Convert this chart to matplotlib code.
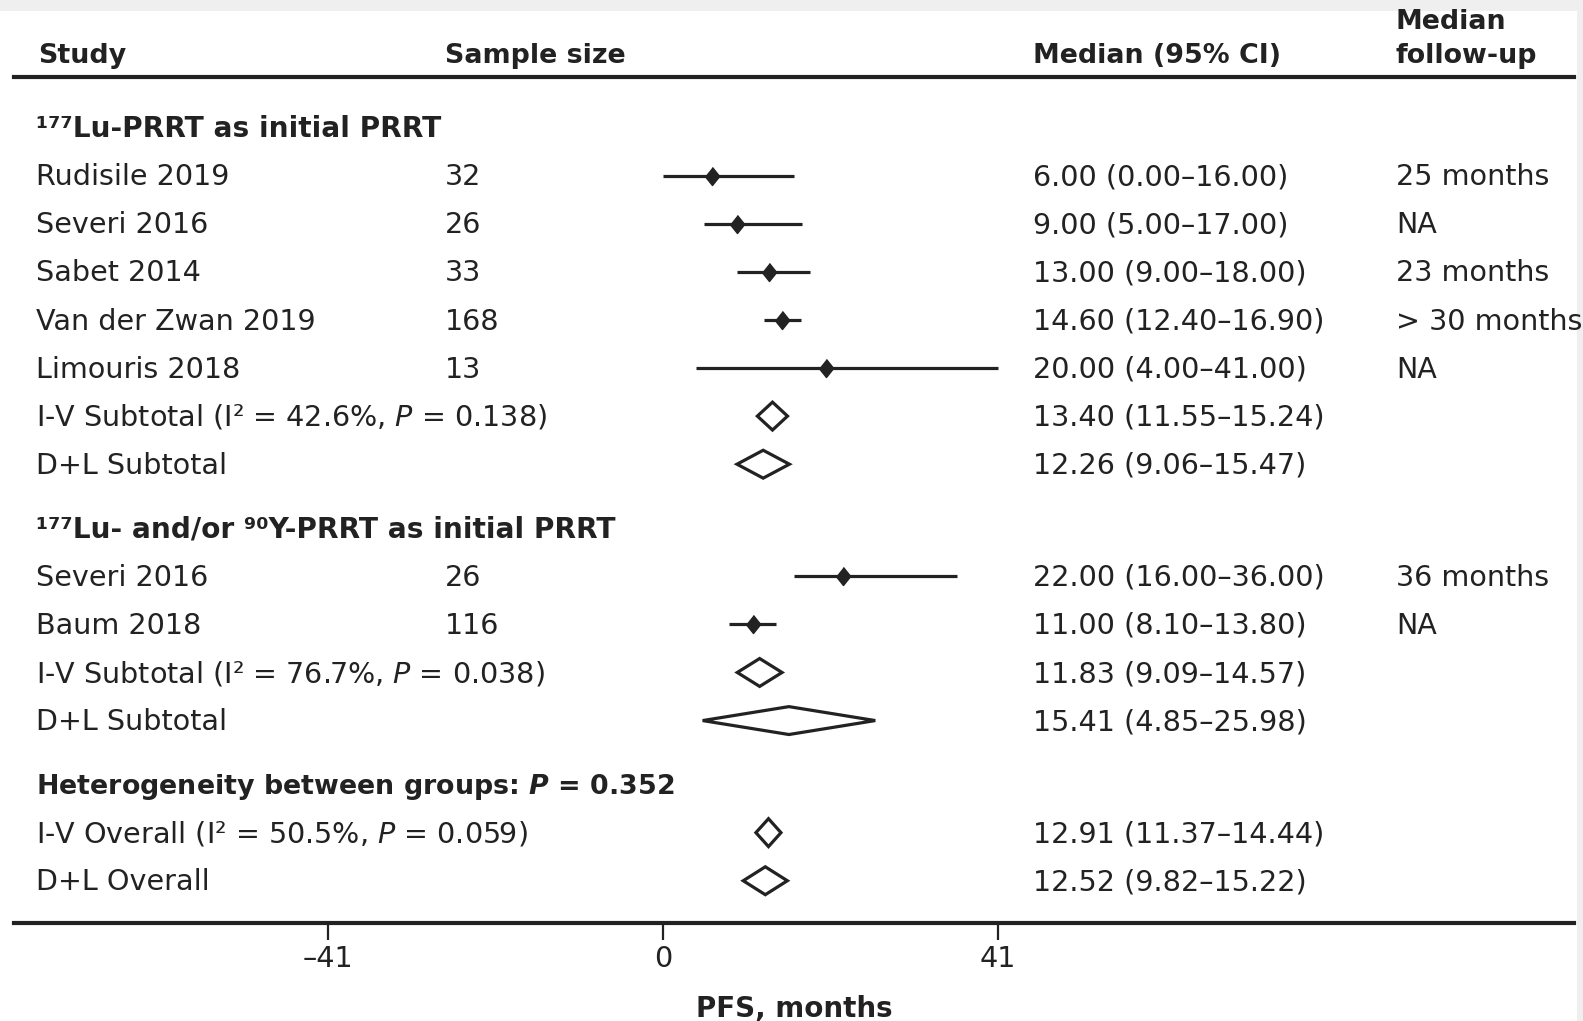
import matplotlib
matplotlib.use('Agg')
import matplotlib.pyplot as plt
from matplotlib import transforms
from matplotlib.patches import Polygon, Rectangle

plt.rcParams['font.family'] = ['DejaVu Sans']
plt.rcParams['mathtext.fontset'] = 'dejavusans'

# ---- data ----
# group 1 : 177Lu-PRRT as initial PRRT
g1_title = '¹⁷⁷Lu-PRRT as initial PRRT'
g1_study = ['Rudisile 2019', 'Severi 2016', 'Sabet 2014', 'Van der Zwan 2019', 'Limouris 2018']
g1_n = [32, 26, 33, 168, 13]
g1_med = [6.00, 9.00, 13.00, 14.60, 20.00]
g1_lo = [0.00, 5.00, 9.00, 12.40, 4.00]
g1_hi = [16.00, 17.00, 18.00, 16.90, 41.00]
g1_fu = ['25 months', 'NA', '23 months', '> 30 months', 'NA']
g1_pool_lab = ['I-V Subtotal (I² = 42.6%, $P$ = 0.138)', 'D+L Subtotal']
g1_pool_med = [13.40, 12.26]
g1_pool_lo = [11.55, 9.06]
g1_pool_hi = [15.24, 15.47]

# group 2 : 177Lu- and/or 90Y-PRRT as initial PRRT
g2_title = '¹⁷⁷Lu- and/or ⁹⁰Y-PRRT as initial PRRT'
g2_study = ['Severi 2016', 'Baum 2018']
g2_n = [26, 116]
g2_med = [22.00, 11.00]
g2_lo = [16.00, 8.10]
g2_hi = [36.00, 13.80]
g2_fu = ['36 months', 'NA']
g2_pool_lab = ['I-V Subtotal (I² = 76.7%, $P$ = 0.038)', 'D+L Subtotal']
g2_pool_med = [11.83, 15.41]
g2_pool_lo = [9.09, 4.85]
g2_pool_hi = [14.57, 25.98]

het_text = r'Heterogeneity between groups: $\mathbfit{P}$ = 0.352'
overall_lab = ['I-V Overall (I² = 50.5%, $P$ = 0.059)', 'D+L Overall']
overall_med = [12.91, 12.52]
overall_lo = [11.37, 9.82]
overall_hi = [14.44, 15.22]

xticks = [-41, 0, 41]
xtick_labels = ['\u201341', '0', '41']

# ---- figure ----
W, H = 1583, 1021
fig = plt.figure(figsize=(W / 100, H / 100), dpi=100)
fig.patch.set_facecolor('white')
# grey frame at top / right of the original scan
fig.add_artist(Rectangle((0, 1 - 11 / H), 1, 11 / H, transform=fig.transFigure,
                         color='#efefef', lw=0, zorder=-5))
fig.add_artist(Rectangle((1577 / W, 0), 6 / W, 1, transform=fig.transFigure,
                         color='#efefef', lw=0, zorder=-5))

ax = fig.add_axes([14 / W, 1 - 923 / H, 1560 / W, 846 / H])
px_per_unit = 335 / 41.0
x0_px = 663
ax.set_xlim((14 - x0_px) / px_per_unit, (1574 - x0_px) / px_per_unit)
row0_px = 127.5
row_px = 48.1
ax.set_ylim((923 - row0_px) / row_px, (77 - row0_px) / row_px)

ink = '#222222'
fs = 20.6
fs_b = 19.4
tr = transforms.blended_transform_factory(fig.transFigure, ax.transData)
col_study = 36 / W
col_n = 445 / W
col_ci = 1033 / W
col_fu = 1396 / W
base = 0.2   # baseline offset below row centre (rows)

def put(x, y, s, bold=False, size=None):
    if size is None:
        size = fs_b if bold else fs
    ax.text(x, y + base, s, transform=tr, fontsize=size, color=ink,
            va='baseline', ha='left', fontweight='bold' if bold else 'normal',
            clip_on=False)

diamond = [(0, 1), (0.8, 0), (0, -1), (-0.8, 0)]

def study_rows(y, names, ns, med, lo, hi, fu):
    for i in range(len(names)):
        yy = y + i
        ax.hlines(yy, lo[i], hi[i], color=ink, lw=2.3)
        ax.plot(med[i], yy, marker=diamond, ms=13, color=ink, ls='none')
        put(col_study, yy, names[i])
        put(col_n, yy, str(ns[i]))
        put(col_ci, yy, '%.2f (%.2f\u2013%.2f)' % (med[i], lo[i], hi[i]))
        put(col_fu, yy, fu[i])
    return y + len(names)

def pooled_rows(y, labs, med, lo, hi):
    for i in range(len(labs)):
        yy = y + i
        h = 0.29
        ax.add_patch(Polygon([[lo[i], yy], [med[i], yy - h], [hi[i], yy], [med[i], yy + h]],
                             closed=True, facecolor='white', edgecolor=ink, lw=2.3))
        put(col_study, yy, labs[i])
        put(col_ci, yy, '%.2f (%.2f\u2013%.2f)' % (med[i], lo[i], hi[i]))
    return y + len(labs)

# header
hy = (53.5 - row0_px) / row_px
put(38 / W, hy, 'Study', bold=True)
put(col_n, hy, 'Sample size', bold=True)
put(col_ci, hy, 'Median (95% CI)', bold=True)
put(col_fu, hy, 'follow-up', bold=True)
put(col_fu, (19.5 - row0_px) / row_px, 'Median', bold=True)

gap = 1.33
y = 0
put(col_study, y, g1_title, bold=True, size=20.2)
y = study_rows(y + 1, g1_study, g1_n, g1_med, g1_lo, g1_hi, g1_fu)
y = pooled_rows(y, g1_pool_lab, g1_pool_med, g1_pool_lo, g1_pool_hi)
y = y - 1 + gap
put(col_study, y, g2_title, bold=True, size=20.2)
y = study_rows(y + 1, g2_study, g2_n, g2_med, g2_lo, g2_hi, g2_fu)
y = pooled_rows(y, g2_pool_lab, g2_pool_med, g2_pool_lo, g2_pool_hi)
y = y - 1 + gap
put(col_study, y, het_text, bold=True)
y = pooled_rows(y + 1, overall_lab, overall_med, overall_lo, overall_hi)

# axes styling
for s in ['left', 'right']:
    ax.spines[s].set_visible(False)
for s in ['top', 'bottom']:
    ax.spines[s].set_linewidth(3)
    ax.spines[s].set_color(ink)
ax.set_yticks([])
ax.set_xticks(xticks)
ax.set_xticklabels(xtick_labels)
ax.tick_params(axis='x', length=12, width=1.6, color=ink, labelsize=fs,
               labelcolor=ink, pad=4)
ax.set_xlabel('PFS, months', fontsize=fs_b + 0.6, fontweight='bold', color=ink,
              labelpad=16)

fig.savefig('out.png', dpi=100, facecolor='white')
